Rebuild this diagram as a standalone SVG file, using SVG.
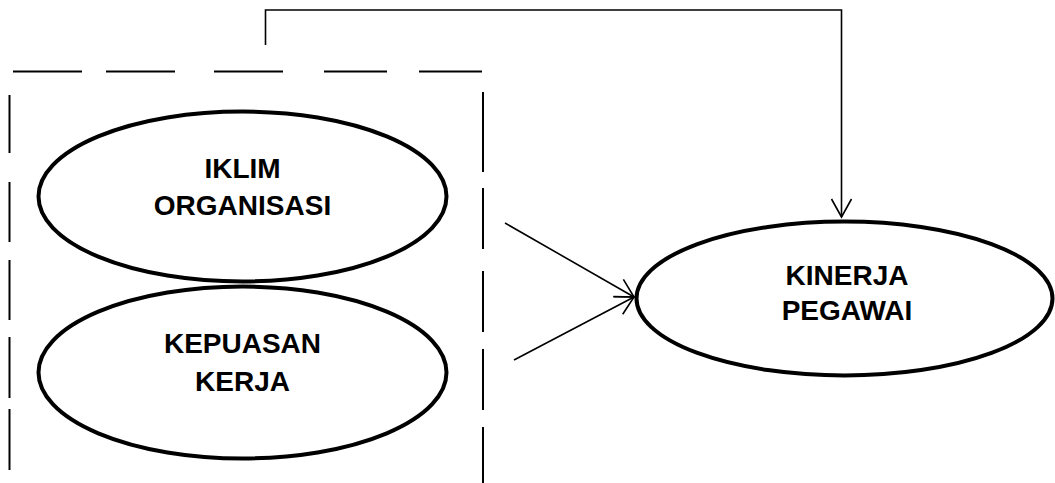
<svg xmlns="http://www.w3.org/2000/svg" width="1055" height="483" viewBox="0 0 1055 483">
<defs>
<style>
.node ellipse{fill:#fff;stroke:#000;stroke-width:4}
.node text{font-family:"Liberation Sans",Arial,sans-serif;font-weight:bold;font-size:28px;fill:#000;text-anchor:middle}
.dash{stroke:#000;stroke-width:2;fill:none}
.conn{stroke:#000;stroke-width:1.6;fill:none}
</style>
<marker id="arr" markerUnits="userSpaceOnUse" markerWidth="24" markerHeight="24" viewBox="-20 -12 24 24" refX="0" refY="0" orient="auto">
<path d="M-18,-10 L0,0 L-18,10" fill="none" stroke="#000" stroke-width="1.6"/>
</marker>
</defs>
<rect width="1055" height="483" fill="#fff"/>
<g id="group-box">
<path class="dash" d="M13,71.5H82 M106,71.5H175 M214,71.5H283 M324,71.5H387 M419,71.5H482"/>
<path class="dash" d="M9.5,95V153 M9.5,182V242 M9.5,260V320 M9.5,337V398 M9.5,409V470"/>
<path class="dash" d="M483,92V172 M483,188V249 M483,271V332 M483,349V410 M483,427V483"/>
</g>
<g id="node-iklim" class="node">
<ellipse cx="242.5" cy="196.5" rx="204" ry="85"/>
<text x="242.5" y="178">IKLIM</text>
<text x="242.5" y="215">ORGANISASI</text>
</g>
<g id="node-kepuasan" class="node">
<ellipse cx="242.5" cy="372.5" rx="204" ry="86"/>
<text x="242.5" y="353">KEPUASAN</text>
<text x="242.5" y="391">KERJA</text>
</g>
<g id="node-kinerja" class="node">
<ellipse cx="844.5" cy="298.5" rx="208" ry="77"/>
<text x="847" y="285">KINERJA</text>
<text x="847" y="320">PEGAWAI</text>
</g>
<g id="connectors">
<path class="conn" d="M265.5,45V10H841.5V217" marker-end="url(#arr)"/>
<path class="conn" d="M505,223L634,297" marker-end="url(#arr)"/>
<path class="conn" d="M514,360L634,297" marker-end="url(#arr)"/>
</g>
</svg>
